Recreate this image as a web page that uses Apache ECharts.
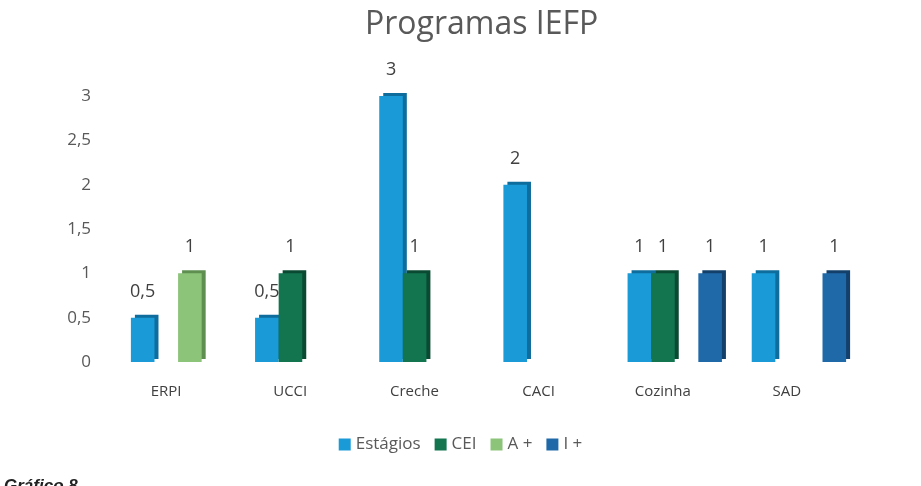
<!DOCTYPE html>
<html><head><meta charset="utf-8">
<script src="https://cdn.jsdelivr.net/npm/echarts@6/dist/echarts.min.js"></script>
<style>html,body{margin:0;padding:0;background:#fff}#c{width:921px;height:486px}</style>
</head><body><div id="c"></div>
<script>
const categories = ['ERPI', 'UCCI', 'Creche', 'CACI', 'Cozinha', 'SAD'];
const estagios = [0.5, 0.5, 3, 2, 1, 1];
const cei = [null, 1, 1, null, 1, null];
const aMais = [1, null, null, null, null, null];
const iMais = [null, null, null, null, 1, 1];
const yTicks = [0, 0.5, 1, 1.5, 2, 2.5, 3];

const font = '"Open Sans", "Noto Sans", sans-serif';
function mk(name, data, color, side) {
  return {
    name: name, type: 'bar', data: data,
    barGap: '0%', barCategoryGap: '24%',
    itemStyle: { color: color, shadowColor: side, shadowOffsetX: 4, shadowOffsetY: -3, shadowBlur: 0 },
    label: {
      show: true, position: 'top', distance: 17, color: '#404040', fontSize: 18, fontFamily: font,
      formatter: p => (p.value == null ? '' : String(p.value).replace('.', ','))
    }
  };
}
const chart = echarts.init(document.getElementById('c'));
chart.setOption({
  animation: false,
  title: { text: 'Programas IEFP', left: 360, top: 4,
    textStyle: { fontFamily: font, fontSize: 32, fontWeight: 'normal', color: '#595959' } },
  grid: { left: 116, right: 60, top: 96, bottom: 124 },
  legend: { bottom: 28, left: 'center', itemWidth: 12, itemHeight: 12, itemGap: 14, icon: 'rect',
    textStyle: { fontFamily: font, fontSize: 17, color: '#595959' } },
  xAxis: { type: 'category', data: categories,
    axisLine: { show: false }, axisTick: { show: false },
    axisLabel: { fontFamily: font, fontSize: 15, color: '#404040', margin: 22, padding: [0, 24, 0, 0] } },
  yAxis: { type: 'value', min: 0, max: 3, interval: 0.5,
    axisLine: { show: false }, axisTick: { show: false }, splitLine: { show: false },
    axisLabel: { fontFamily: font, fontSize: 17, color: '#595959', margin: 25,
      formatter: v => (yTicks.includes(v) ? String(v).replace('.', ',') : '') } },
  series: [
    mk('Estágios', estagios, '#1a9ad6', '#0f6d9e'),
    mk('CEI', cei, '#137550', '#0b4a32'),
    mk('A +', aMais, '#8cc47a', '#5e8f50'),
    mk('I +', iMais, '#1f69a8', '#12406b')
  ],
  graphic: [{ type: 'text', left: 4, top: 478,
    style: { text: 'Gráfico 8', font: 'italic bold 17px "Liberation Sans", sans-serif', fill: '#222' } }]
});
</script></body></html>
